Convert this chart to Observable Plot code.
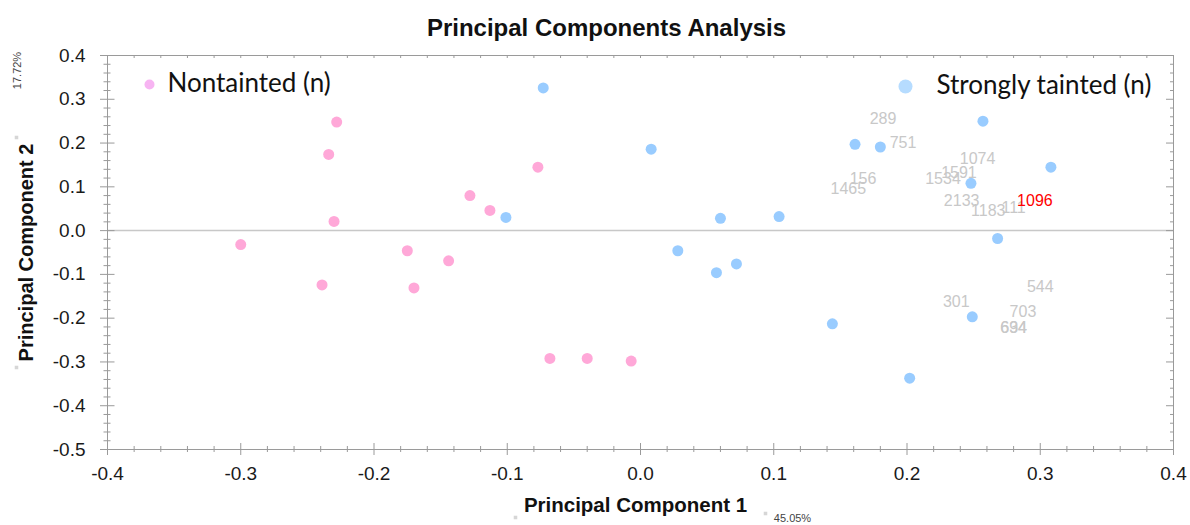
<!DOCTYPE html>
<html>
<head>
<meta charset="utf-8">
<script src="https://cdn.jsdelivr.net/npm/d3@7"></script>
<script src="https://cdn.jsdelivr.net/npm/@observablehq/plot@0.6"></script>
<style>
  html, body { margin: 0; padding: 0; background: white; }
</style>
</head>
<body>
<div id="chart"></div>
<script>
// Nontainted samples: PC1, PC2
const nonPC1 = [-0.300, -0.228, -0.234, -0.230, -0.239, -0.175, -0.170, -0.144, -0.128, -0.113, -0.077, -0.068, -0.040, -0.007];
const nonPC2 = [-0.032, 0.248, 0.174, 0.021, -0.124, -0.046, -0.131, -0.069, 0.080, 0.046, 0.145, -0.292, -0.292, -0.298];

// Strongly tainted samples: PC1, PC2
const strPC1 = [-0.073, -0.101, 0.008, 0.028, 0.060, 0.057, 0.072, 0.104, 0.144, 0.161, 0.180, 0.202, 0.248, 0.257, 0.308, 0.268, 0.249];
const strPC2 = [0.326, 0.030, 0.186, -0.046, 0.028, -0.096, -0.076, 0.032, -0.213, 0.197, 0.191, -0.337, 0.108, 0.250, 0.145, -0.018, -0.197];

// Sample number labels
const labelText = ["289", "751", "1074", "156", "1465", "1534", "1591", "2133", "1183", "111", "1096", "544", "301", "703", "694", "634"];
const labelPC1  = [0.182, 0.197, 0.253, 0.167, 0.156, 0.227, 0.239, 0.241, 0.261, 0.280, 0.296, 0.300, 0.237, 0.287, 0.280, 0.280];
const labelPC2  = [0.255, 0.200, 0.165, 0.119, 0.096, 0.119, 0.131, 0.069, 0.044, 0.051, 0.067, -0.129, -0.163, -0.186, -0.223, -0.223];
const labelHighlight = ["1096"];

// Axis ticks
const xTicks = [-0.4, -0.3, -0.2, -0.1, 0.0, 0.1, 0.2, 0.3, 0.4];
const yTicks = [-0.5, -0.4, -0.3, -0.2, -0.1, 0.0, 0.1, 0.2, 0.3, 0.4];

// Texts
const title = "Principal Components Analysis";
const xLabel = "Principal Component 1";
const yLabel = "Principal Component 2";
const xPct = "45.05%";
const yPct = "17.72%";
const seriesNames = ["Nontainted (n)", "Strongly tainted (n)"];

const nonData = nonPC1.map((x, i) => ({x, y: nonPC2[i]}));
const strData = strPC1.map((x, i) => ({x, y: strPC2[i]}));
const labels = labelText.map((t, i) => ({t, x: labelPC1[i], y: labelPC2[i]}));

const xMinor = d3.range(-20, 21).map(k => +(k * 0.02).toFixed(2));
const yMinor = d3.range(-25, 21).map(k => +(k * 0.02).toFixed(2));
const isMajor = v => Math.abs(Math.round(v * 10) - v * 10) < 1e-6;

const pink = "#ffa8d8";
const blue = "#99ccff";
const frameColor = "#9a9a9a";
const font = "'Liberation Sans', Arial, sans-serif";
const legendFont = "Lato, 'Open Sans', sans-serif";
const mid = {textAnchor: "middle", lineAnchor: "middle"};

const chart = Plot.plot({
  width: 1190,
  height: 525,
  marginLeft: 107,
  marginRight: 17,
  marginTop: 55,
  marginBottom: 76,
  style: {fontFamily: font, background: "white", overflow: "visible"},
  x: {domain: [-0.4, 0.4]},
  y: {domain: [-0.5, 0.4]},
  marks: [
    Plot.ruleY([0], {stroke: "#c8c8c8", strokeWidth: 1.5}),
    Plot.frame({stroke: frameColor, strokeWidth: 1}),
    // bottom ticks (crossing)
    Plot.ruleX(xMinor.filter(v => !isMajor(v)), {x: d => d, y1: () => -0.5, y2: () => -0.5, insetTop: -3, insetBottom: -3, stroke: frameColor}),
    Plot.ruleX(xMinor.filter(isMajor), {x: d => d, y1: () => -0.5, y2: () => -0.5, insetTop: -6, insetBottom: -6, stroke: frameColor}),
    // top ticks (inward)
    Plot.ruleX(xMinor, {x: d => d, y1: () => 0.4, y2: () => 0.4, insetTop: 0, insetBottom: -3, stroke: frameColor}),
    // left ticks (crossing)
    Plot.ruleY(yMinor.filter(v => !isMajor(v)), {y: d => d, x1: () => -0.4, x2: () => -0.4, insetLeft: -3.5, insetRight: -3.5, stroke: frameColor}),
    Plot.ruleY(yMinor.filter(isMajor), {y: d => d, x1: () => -0.4, x2: () => -0.4, insetLeft: -7, insetRight: -7.5, stroke: frameColor}),
    // right ticks (inward)
    Plot.ruleY(yMinor.filter(v => !isMajor(v)), {y: d => d, x1: () => 0.4, x2: () => 0.4, insetLeft: -3, insetRight: 0, stroke: frameColor}),
    Plot.ruleY(yMinor.filter(isMajor), {y: d => d, x1: () => 0.4, x2: () => 0.4, insetLeft: -7, insetRight: 0, stroke: frameColor}),
    Plot.axisX(xTicks, {tickSize: 0, tickPadding: 17, fontSize: 19, fill: "#1a1a1a",
      tickFormat: d => d.toFixed(1), label: null}),
    Plot.axisY(yTicks, {tickSize: 0, tickPadding: 22, fontSize: 19, fill: "#1a1a1a",
      tickFormat: d => d.toFixed(1), label: null}),
    // data points
    Plot.dot(nonData, {x: "x", y: "y", r: 5.5, fill: pink}),
    Plot.dot(strData, {x: "x", y: "y", r: 5.5, fill: blue}),
    // sample labels
    Plot.text(labels, {x: "x", y: "y", text: "t", fontSize: 16,
      fill: d => labelHighlight.includes(d.t) ? "#ff0000" : "#c8c8c8"}),
    // legend
    Plot.dot([0], {frameAnchor: "top-left", dx: 42, dy: 29, r: 5, fill: "#f7b4f2"}),
    Plot.text([seriesNames[0]], {frameAnchor: "top-left", dx: 60, dy: 28, textAnchor: "start", lineAnchor: "middle",
      fontSize: 26, fontFamily: legendFont, fill: "#111"}),
    Plot.dot([0], {frameAnchor: "top-left", dx: 798, dy: 31, r: 7, fill: "#b6dcff"}),
    Plot.text([seriesNames[1]], {frameAnchor: "top-left", dx: 829, dy: 30, textAnchor: "start", lineAnchor: "middle",
      fontSize: 26, fontFamily: legendFont, fill: "#111"}),
    // title
    Plot.text([title], {frameAnchor: "top", dx: -34, dy: -27, ...mid, fontSize: 24, fontWeight: "bold", fill: "#111"}),
    // axis labels
    Plot.text([xLabel], {frameAnchor: "bottom", dx: -5, dy: 56, ...mid, fontSize: 20.5, fontWeight: "bold", fill: "#111"}),
    Plot.text([xPct], {frameAnchor: "bottom", dx: 152, dy: 69, ...mid, fontSize: 11, fill: "#444"}),
    Plot.text([yLabel], {frameAnchor: "left", dx: -81, dy: 0, ...mid, rotate: -90, fontSize: 20, fontWeight: "bold", fill: "#111"}),
    Plot.text([yPct], {frameAnchor: "top-left", dx: -90, dy: 15, ...mid, rotate: -90, fontSize: 11, fill: "#444"}),
    // tiny marker squares
    Plot.dot([0], {frameAnchor: "bottom-left", dx: 408, dy: 68, symbol: "square", r: 2, fill: "#d6d6d6"}),
    Plot.dot([0], {frameAnchor: "bottom-left", dx: 658, dy: 64, symbol: "square", r: 2, fill: "#d6d6d6"}),
    Plot.dot([0], {frameAnchor: "top-left", dx: -91, dy: 82, symbol: "square", r: 2, fill: "#d6d6d6"}),
    Plot.dot([0], {frameAnchor: "top-left", dx: -91, dy: 312, symbol: "square", r: 2, fill: "#d6d6d6"})
  ]
});
document.getElementById("chart").appendChild(chart);
</script>
</body>
</html>
